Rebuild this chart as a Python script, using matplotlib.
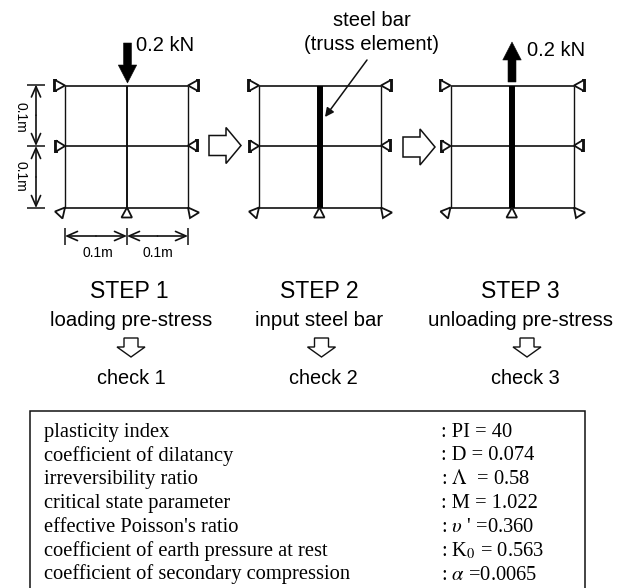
import matplotlib
matplotlib.use("Agg")
import matplotlib.pyplot as plt
from matplotlib.patches import Polygon, Rectangle

W, H = 625, 588
grid_xs = [[65, 127, 188], [259, 319.5, 381], [450.5, 512, 574]]
grid_ys = [86, 146, 207.5]
steel_lw = [0, 4.3, 4.3]
step_titles = ["STEP 1", "STEP 2", "STEP 3"]
step_subs = ["loading pre-stress", "input steel bar", "unloading pre-stress"]
step_checks = ["check 1", "check 2", "check 3"]
title_cx = [129.5, 319, 520.5]
sub_cx = [131, 319, 520]
arrow_cx = [131, 321.5, 527]
check_cx = [131, 323, 525]
param_names = ["plasticity index", "coefficient of dilatancy", "irreversibility ratio",
               "critical state parameter", "effective Poisson's ratio",
               "coefficient of earth pressure at rest", "coefficient of secondary compression"]
param_values = [": PI = 40", ": D = 0.074", ": $\\Lambda$  = 0.58", ": M = 1.022",
                ": $\\mathit{\\upsilon}$ ' =0.360", ": K$_0$ = 0.563", ": $\\alpha$ =0.0065"]
row_baselines = [437, 460.5, 484, 508, 532, 556, 579.5]

SANS = "Liberation Sans"
SERIF = "Liberation Serif"
INK = "#111111"
plt.rcParams["mathtext.fontset"] = "stix"

fig = plt.figure(figsize=(W/100, H/100), dpi=100)
ax = fig.add_axes([0, 0, 1, 1])
ax.set_xlim(0, W); ax.set_ylim(H, 0); ax.axis("off")

def line(xs, ys, lw=1.1, c=INK):
    ax.plot(xs, ys, color=c, lw=lw, solid_capstyle="butt", zorder=2)

def poly(pts, fc="white", lw=1.3):
    ax.add_patch(Polygon(pts, closed=True, fc=fc, ec=INK, lw=lw, zorder=3))

def support(x, y, s, n):
    poly([(x, y), (x+s*n, y-5.5), (x+s*n, y+5.5)])
    line([x+s*n, x+s*n], [y-6.5, y+6.5], lw=2.8)

def block_arrow(x, y0, y1, base, w=8, hw=18.5):
    poly([(x-w/2, y0), (x+w/2, y0), (x+w/2, base), (x+hw/2, base), (x, y1),
          (x-hw/2, base), (x-w/2, base)], fc="black", lw=0.4)

def hollow_right(x, y):
    poly([(x, y-10), (x+17, y-10), (x+17, y-18), (x+32, y), (x+17, y+18), (x+17, y+10), (x, y+10)], lw=1.1)

def hollow_down(x, y):
    poly([(x-7, y), (x+7, y), (x+7, y+9), (x+14, y+9), (x, y+19), (x-14, y+9), (x-7, y+9)], lw=1.0)

for xs, sw in zip(grid_xs, steel_lw):
    for i, x in enumerate(xs):
        line([x, x], [grid_ys[0], grid_ys[2]], lw=1.4 if i == 1 else 1.0)
    for i, y in enumerate(grid_ys):
        line([xs[0], xs[2]], [y, y], lw=1.2)
    if sw:
        line([xs[1], xs[1]], [grid_ys[0], grid_ys[2]], lw=sw, c="black")
    support(xs[0], grid_ys[0]-0.5, -1, 10); support(xs[0], grid_ys[1], -1, 9)
    support(xs[2], grid_ys[0]-0.5, 1, 10); support(xs[2], grid_ys[1]-0.5, 1, 9)
    b = grid_ys[2]
    poly([(xs[0], b), (xs[0]-10, b+4), (xs[0]-2.5, b+11)])
    poly([(xs[2], b), (xs[2]+11, b+5), (xs[2]+2, b+10.5)])
    poly([(xs[1], b), (xs[1]-5.5, b+10), (xs[1]+5, b+10)])

block_arrow(127.5, 43, 83, 65)
block_arrow(512, 82, 42, 60)
hollow_right(209, 145.5)
hollow_right(403, 147)

ax.text(136.5, 45.5, "0.2 kN", family=SANS, fontsize=14.5, ha="left", va="center")
ax.text(527, 50, "0.2 kN", family=SANS, fontsize=14.5, ha="left", va="center")
ax.text(371.5, 20, "steel bar", family=SANS, fontsize=14.6, ha="center", va="center")
ax.text(371, 44, "(truss element)", family=SANS, fontsize=14.6, ha="center", va="center")
ax.annotate("", xy=(325, 117), xytext=(367, 60),
            arrowprops=dict(arrowstyle="-|>", color=INK, lw=1.1, shrinkA=0, shrinkB=0, mutation_scale=13))

def dim(p0, p1):
    ax.annotate("", xy=p1, xytext=p0,
                arrowprops=dict(arrowstyle="->,head_length=0.5,head_width=0.22", color=INK, lw=1.2,
                                shrinkA=0, shrinkB=0, mutation_scale=15))

for a, b in [(65, 127), (127, 188)]:
    dim(((a+b)/2, 236), (a, 236)); dim(((a+b)/2, 236), (b, 236))
for x in (65, 127, 188):
    line([x, x], [228, 245], lw=1.1)
for a, b in [(84.5, 146), (146, 208)]:
    dim((36, (a+b)/2), (36, a)); dim((36, (a+b)/2), (36, b))
for y in (84.5, 146, 208):
    line([27, 45], [y, y], lw=1.1)
ax.text(98, 253, "0.1m", family=SANS, fontsize=10, ha="center", va="center")
ax.text(158, 253, "0.1m", family=SANS, fontsize=10, ha="center", va="center")
ax.text(20, 117, "0.1m", family=SANS, fontsize=10, ha="center", va="center", rotation=-90)
ax.text(20, 176, "0.1m", family=SANS, fontsize=10, ha="center", va="center", rotation=-90)

for i in range(3):
    ax.text(title_cx[i], 291, step_titles[i], family=SANS, fontsize=16.6, ha="center", va="center")
    ax.text(sub_cx[i], 321, step_subs[i], family=SANS, fontsize=14.7, ha="center", va="center")
    hollow_down(arrow_cx[i], 338)
    ax.text(check_cx[i], 379, step_checks[i], family=SANS, fontsize=14.4, ha="center", va="center")

ax.add_patch(Rectangle((30, 411), 555, 190, fc="white", ec=INK, lw=1.1, zorder=1))
for y, n, v in zip(row_baselines, param_names, param_values):
    ax.text(44, y, n, family=SERIF, fontsize=14.8, ha="left", va="baseline")
    ax.text(441, y, v, family=SERIF, fontsize=14.8, ha="left", va="baseline")

fig.savefig("out.png", dpi=100)
